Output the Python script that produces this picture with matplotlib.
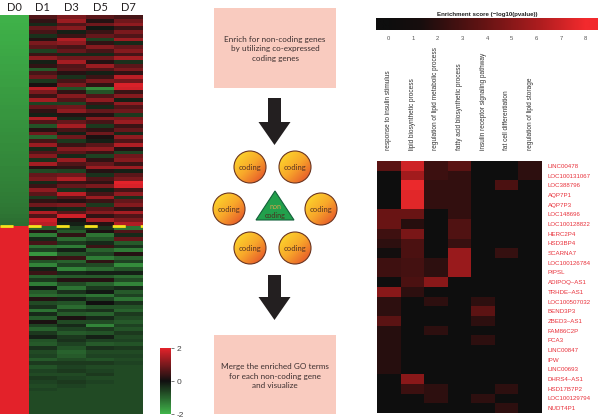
import numpy as np
import matplotlib
matplotlib.use("Agg")
import matplotlib.pyplot as plt
from matplotlib.colors import LinearSegmentedColormap
from matplotlib.patches import Rectangle, Circle, Polygon

plt.rcParams['font.family'] = ['Liberation Sans', 'DejaVu Sans']
W, H = 600, 419

# ---- expression heatmap, rows sorted by D0 (upper block: low D0, lower block: high D0)
days = ['D0', 'D1', 'D3', 'D5', 'D7']

d0_up = [-1.95, -1.94, -1.93, -1.92, -1.90, -1.89, -1.88, -1.86, -1.85, -1.84,
         -1.82, -1.81, -1.80, -1.78, -1.77, -1.76, -1.74, -1.73, -1.72, -1.70,
         -1.69, -1.68, -1.66, -1.65, -1.64, -1.62, -1.61, -1.60, -1.58, -1.57,
         -1.56, -1.54, -1.53, -1.52, -1.50, -1.49, -1.48, -1.46, -1.45, -1.44,
         -1.42, -1.41, -1.40, -1.38, -1.37, -1.35, -1.34, -1.32, -1.31, -1.29,
         -1.27, -1.25, -1.23, -1.20, -1.17, -1.14]
d1_up = [0.6, 0.3, -0.3, 0.8, 0.5, -0.4, 0.2, 1.0, 0.7, -0.6,
         0.4, 1.2, -0.2, 0.3, -0.9, 0.5, 0.9, -0.5, 0.1, 1.6,
         1.0, 0.4, 1.4, -0.6, 0.8, 0.3, -0.2, 1.5, 0.6, -0.8,
         0.2, 0.9, -1.0, 0.5, 1.3, -0.3, 0.6, 1.1, -0.4, 1.4,
         0.2, -0.7, 0.8, 1.0, -0.3, 0.4, 1.2, 0.7, -0.5, 0.3,
         0.9, -0.2, 1.5, 0.6, 1.8, 1.6]
d3_up = [1.0, 1.3, 0.6, 1.1, -0.2, 0.4, 1.5, 1.2, 0.5, 0.8,
         -0.3, 0.9, 1.4, 0.6, 0.7, 0.2, -0.4, 0.5, 1.0, -0.8,
         0.3, 1.1, 0.6, -0.6, 0.9, 1.2, 0.2, -0.3, 0.8, 1.4,
         0.5, -0.2, 0.9, -0.5, 0.4, 1.1, 0.7, -0.3, 1.3, 0.6,
         0.3, -0.6, 0.9, 1.5, 0.4, 0.8, -0.4, 1.6, 0.6, 0.2,
         1.0, -0.3, 0.7, 1.8, 0.1, -0.2]
d5_up = [0.7, 0.2, 0.9, -0.1, 0.4, 0.8, -0.6, 0.3, 1.1, 0.5,
         -0.3, 0.9, 0.2, 1.3, 0.6, -0.2, 0.4, 1.0, 0.3, -1.5,
         -0.8, 0.6, 1.2, 0.4, -0.3, 0.8, 0.2, 1.1, 0.5, -0.5,
         0.3, 0.9, 0.1, -0.2, 0.7, 1.2, 0.4, -0.6, 0.3, 0.8,
         1.3, 0.2, -0.4, 0.6, 0.3, 1.0, -0.2, 0.5, 1.3, 0.4,
         -0.5, 0.7, 1.1, 0.3, 1.4, 0.2]
d7_up = [0.5, 0.9, 1.2, 0.4, 1.0, 0.6, 1.3, -0.3, 0.8, 1.1,
         0.5, 1.4, -0.4, 0.7, 1.0, 0.3, 1.6, 0.9, 1.9, 1.8,
         0.4, 1.1, -0.2, 1.2, 0.6, 0.9, -0.5, 1.0, 1.3, 0.4,
         0.8, -0.3, 1.2, 0.6, 1.5, 0.2, -0.6, 0.9, 1.1, 0.4,
         1.3, -0.2, 0.7, 1.0, 2.0, 1.9, 0.5, 1.2, -0.4, 0.8,
         1.1, 0.3, 1.4, 0.6, 1.0, 1.5]

d0_dn = [2.0, 2.0, 2.0, 2.0, 2.0, 2.0, 2.0, 2.0, 2.0, 2.0,
         2.0, 2.0, 2.0, 2.0, 2.0, 2.0, 2.0, 2.0, 2.0, 2.0,
         2.0, 2.0, 2.0, 2.0, 2.0, 2.0, 2.0, 2.0, 2.0, 2.0,
         2.0, 2.0, 2.0, 2.0, 2.0, 2.0, 2.0, 2.0, 2.0, 2.0,
         2.0, 2.0, 2.0, 2.0, 2.0, 2.0, 2.0, 2.0, 2.0, 2.0]
d1_dn = [-1.0, 0.2, -1.3, -0.3, 0.5, -1.2, -0.6, -1.6, 0.3, -0.8,
         -1.4, -0.2, 0.4, -1.0, -0.5, -1.3, -0.1, -0.9, -1.1, 0.2,
         -0.7, -0.4, -1.2, -0.3, -0.9, 0.1, -0.6, -1.0, -0.5, -0.2,
         -0.8, -0.9, -0.4, -0.7, -0.6, -0.9, -0.5, -0.8, -0.6, -0.7,
         -0.5, -0.6, -0.7, -0.6, -0.7, -0.7, -0.7, -0.7, -0.7, -0.7]
d3_dn = [-0.6, -0.9, 0.3, -1.1, -0.5, -1.3, -0.2, -0.8, 0.4, -1.0,
         -0.6, -1.4, -0.3, -0.9, 0.2, -0.7, -1.2, -0.4, -1.0, -0.2,
         -0.8, -1.1, -0.5, -0.9, 0.1, -0.7, -0.3, -0.6, -0.9, -0.5,
         -0.4, -0.6, -0.8, -1.0, -0.9, -0.7, -0.5, -0.6, -0.5, -0.7,
         -0.6, -0.5, -0.6, -0.7, -0.7, -0.7, -0.7, -0.7, -0.7, -0.7]
d5_dn = [-0.4, 0.1, -1.2, -0.8, -0.3, 0.4, -1.0, -0.6, -1.3, 0.3,
         -0.7, -1.1, -0.2, -0.9, 0.2, -1.0, -0.5, -0.1, -1.2, -0.6,
         0.0, -0.8, -0.4, -1.0, -0.3, -0.7, -1.4, -0.5, -0.8, -0.2,
         -0.6, -0.9, -0.4, -0.7, -0.6, -0.8, -0.5, -0.7, -0.6, -0.5,
         -0.7, -0.6, -0.7, -0.7, -0.7, -0.7, -0.7, -0.7, -0.7, -0.7]
d7_dn = [-1.2, 0.6, -0.3, 0.8, -0.9, -0.4, -1.3, 0.2, -1.0, -0.6,
         -1.5, -0.8, -0.2, -1.1, -0.7, -1.4, -0.3, -0.9, -0.6, -1.2,
         -0.4, -0.8, -1.0, -0.5, -0.7, -0.9, -0.6, -0.8, -0.5, -0.7,
         -0.6, -0.8, -0.5, -0.7, -0.6, -0.7, -0.6, -0.7, -0.7, -0.7,
         -0.7, -0.7, -0.7, -0.7, -0.7, -0.7, -0.7, -0.7, -0.7, -0.7]

# ---- GO enrichment heatmap
go_terms = ['response to insulin stimulus', 'lipid biosynthetic process',
            'regulation of lipid metabolic process', 'fatty acid biosynthetic process',
            'insulin receptor signaling pathway', 'fat cell differentiation',
            'regulation of lipid storage']
genes = ['LINC00478', 'LOC100131067', 'LOC388796', 'AQP7P1', 'AQP7P3', 'LOC148696',
         'LOC100128822', 'HERC2P4', 'HSD3BP4', 'SCARNA7', 'LOC100126784', 'PIPSL',
         'ADIPOQ\u2013AS1', 'TRHDE\u2013AS1', 'LOC100507032', 'BEND3P3', 'ZBED3\u2013AS1',
         'FAM86C2P', 'PCA3', 'LINC00847', 'IPW', 'LINC00693', 'DHRS4\u2013AS1',
         'HSD17B7P2', 'LOC100129794', 'NUDT4P1']
go_insulin_resp = [3.5, 0, 0, 0, 0, 4.0, 4.0, 2.6, 2.0, 0.5, 2.6, 2.6, 0,
                   5.0, 2.0, 2.0, 3.5, 1.8, 1.8, 1.8, 1.8, 1.8, 0, 0, 0, 0]
go_lipid_bio = [7.0, 5.8, 7.8, 7.5, 7.5, 4.0, 1.8, 4.5, 3.0, 3.0, 2.8, 2.8, 3.0,
                2.0, 0, 0, 0, 0, 0, 0, 0, 0, 5.0, 2.5, 0, 0]
go_lipid_reg = [2.5, 2.5, 2.2, 2.2, 2.2, 0, 0, 0, 0, 0, 2.0, 2.0, 5.0,
                0, 2.0, 0, 0, 2.0, 0, 0, 0, 0, 0, 2.0, 2.0, 0]
go_fatty_acid = [3.5, 2.2, 2.2, 2.2, 2.2, 2.2, 3.2, 3.2, 2.4, 5.5, 5.5, 5.5, 0,
                 0, 0, 0, 0, 0, 0, 0, 0, 0, 0, 0, 0, 0]
go_insulin_sig = [0, 0, 0, 0, 0, 0, 0, 0, 0, 0, 0, 0, 0,
                  0, 2.0, 3.6, 2.0, 0, 2.0, 0, 0, 0, 0, 0, 2.0, 0]
go_fat_cell = [0, 0, 3.0, 0, 0, 0, 0, 0, 0, 2.3, 0, 0, 0,
               0, 0, 0, 0, 0, 0, 0, 0, 0, 0, 2.0, 0, 2.0]
go_lipid_store = [2.0, 2.0, 0, 0, 0, 0, 0, 0, 0, 0, 0, 0, 0,
                  0, 0, 0, 0, 0, 0, 0, 0, 0, 0, 0, 0, 0]
score_ticks = [0, 1, 2, 3, 4, 5, 6, 7, 8]

fig = plt.figure(figsize=(W / 100, H / 100), dpi=100)


def add_ax(x0, y0, x1, y1):
    # axes placed by pixel box (top-left origin)
    return fig.add_axes([x0 / W, 1 - y1 / H, (x1 - x0) / W, (y1 - y0) / H])


# ---------- middle workflow sketch (pixel coordinates)
ov = fig.add_axes([0, 0, 1, 1])
ov.set_xlim(0, W)
ov.set_ylim(H, 0)
ov.axis('off')

box_txt = dict(ha='center', va='center', fontsize=5.9, color='#3d3030',
               family=['Lato', 'DejaVu Sans'], linespacing=1.45)
ov.add_patch(Rectangle((214, 8), 122, 80, fc='#f9cbbf', ec='none'))
ov.text(275, 49, 'Enrich for non-coding genes\nby utilizing co-expressed\ncoding genes', **box_txt)
ov.add_patch(Rectangle((214, 335), 122, 79, fc='#f9cbbf', ec='none'))
ov.text(275, 376, 'Merge the enriched GO terms\nfor each non-coding gene\nand visualize', **box_txt)


def down_arrow(cx, y_top, y_head, y_tip):
    pts = [(cx - 6.5, y_top), (cx + 6.5, y_top), (cx + 6.5, y_head), (cx + 16, y_head),
           (cx, y_tip), (cx - 16, y_head), (cx - 6.5, y_head)]
    ov.add_patch(Polygon(pts, closed=True, fc='#231f20', ec='none'))


down_arrow(274.5, 98, 122, 145)
down_arrow(274.5, 275, 297, 320)

ball_cmap = LinearSegmentedColormap.from_list('ball', ['#fde12c', '#f8a72a', '#e2452a'])
gx, gy = np.meshgrid(np.linspace(0, 1, 64), np.linspace(0, 1, 64))
ball_grad = (gx + gy) / 2
r = 16
for cx, cy in [(250, 167), (295, 167), (229, 209), (321, 209), (250, 248), (295, 248)]:
    circ = Circle((cx, cy), r, fc='none', ec='#6b3520', lw=0.8, zorder=3)
    ov.add_patch(circ)
    im = ov.imshow(ball_grad, cmap=ball_cmap, extent=(cx - r, cx + r, cy + r, cy - r),
                   origin='upper', aspect='auto', zorder=2)
    im.set_clip_path(circ)
    ov.text(cx, cy, 'coding', ha='center', va='center', fontsize=5.6, color='#5a3420',
            family=['Lato', 'DejaVu Sans'], zorder=4)

tri = Polygon([(275, 191), (294, 220), (256, 220)], closed=True, fc='#22a04c',
              ec='#13603a', lw=0.8, zorder=3)
ov.add_patch(tri)
ov.text(275, 206, 'non', ha='center', va='center', fontsize=5.2, color='#d3a54a',
        family=['Lato', 'DejaVu Sans'], zorder=4)
ov.text(275, 215, 'coding', ha='center', va='center', fontsize=5.2, color='#4a3020',
        family=['Lato', 'DejaVu Sans'], zorder=4)
ov.set_xlim(0, W)
ov.set_ylim(H, 0)

# ---------- left expression heatmap
expr = np.column_stack([d0_up + d0_dn, d1_up + d1_dn, d3_up + d3_dn,
                        d5_up + d5_dn, d7_up + d7_dn])
expr_cmap = LinearSegmentedColormap.from_list('gkr', ['#40b54a', '#101010', '#e3222a'])
ax = add_ax(0, 15, 143, 414)
mesh = ax.pcolormesh(expr, cmap=expr_cmap, vmin=-2, vmax=2)
ax.set_xlim(0, len(days))
ax.set_ylim(len(expr), 0)
ax.axhline(len(d0_up), color='#f5e31c', lw=2, dashes=(4.7, 5.4))
ax.set_xticks(np.arange(len(days)) + 0.5, days)
ax.xaxis.tick_top()
ax.tick_params(axis='x', length=0, pad=1.5, labelsize=8, labelcolor='#231f20')
for lab in ax.get_xticklabels():
    lab.set_family(['Lato', 'DejaVu Sans'])
ax.set_yticks([])
for s in ax.spines.values():
    s.set_visible(False)

cax = add_ax(160, 348, 171, 414)
cb = fig.colorbar(mesh, cax=cax, ticks=[-2, 0, 2])
cb.outline.set_visible(False)
cb.ax.set_yticklabels(['-2', '0', '2'])
cb.ax.tick_params(length=2, width=0.5, color='#444444', labelsize=6, labelcolor='#444444', pad=2)

# ---------- right GO enrichment heatmap
enrich = np.column_stack([go_insulin_resp, go_lipid_bio, go_lipid_reg, go_fatty_acid,
                          go_insulin_sig, go_fat_cell, go_lipid_store])
enr_cmap = LinearSegmentedColormap.from_list(
    'enr', [(0, '#0e0e0e'), (0.16, '#170d0d'), (0.5, '#681414'), (0.75, '#a81c1e'),
            (1, '#f22a2d')])

eax = add_ax(376, 18, 598, 30)
eax.imshow(np.linspace(-0.5, 8.5, 300)[None, :], cmap=enr_cmap, vmin=0, vmax=8,
           aspect='auto', extent=(-0.5, 8.5, 0, 1))
eax.set_yticks([])
eax.set_xticks(score_ticks, [str(t) for t in score_ticks])
eax.tick_params(axis='x', length=0, pad=4, labelsize=4.2, labelcolor='#555555')
for s in eax.spines.values():
    s.set_visible(False)
eax.set_title('Enrichment score (\u2212log10(pvalue))', fontsize=4.4, fontweight='bold',
              color='#222222', pad=1.5)

hax = add_ax(377, 161, 542, 413)
hax.pcolormesh(enrich, cmap=enr_cmap, vmin=0, vmax=8)
hax.set_xlim(0, len(go_terms))
hax.set_ylim(len(genes), 0)
hax.set_xticks(np.arange(len(go_terms)) + 0.5, go_terms, rotation=90)
hax.xaxis.tick_top()
hax.set_yticks(np.arange(len(genes)) + 0.5, genes)
hax.yaxis.tick_right()
hax.tick_params(length=0)
hax.tick_params(axis='x', pad=8, labelsize=4.7, labelcolor='#333333')
hax.tick_params(axis='y', pad=4, labelsize=4.4, labelcolor='#e8303a')
for s in hax.spines.values():
    s.set_visible(False)

fig.savefig('out.png', dpi=100)
